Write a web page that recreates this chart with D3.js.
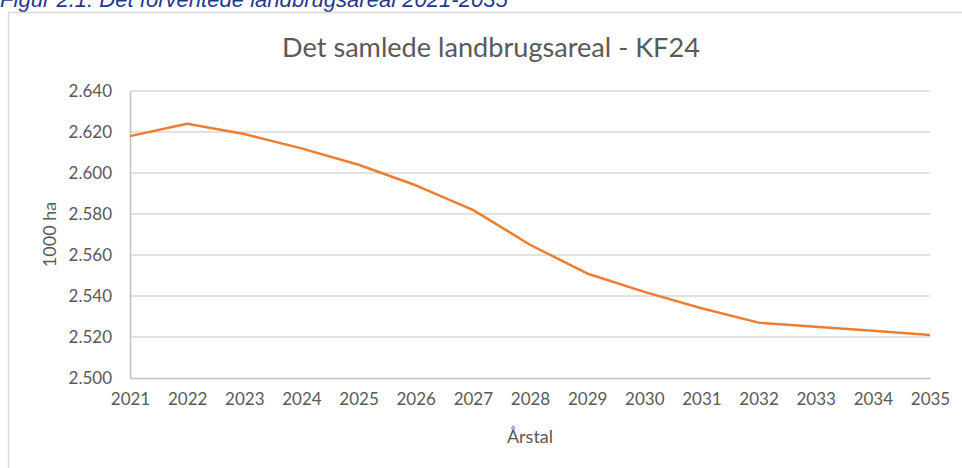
<!DOCTYPE html>
<html>
<head>
<meta charset="utf-8">
<script src="https://cdn.jsdelivr.net/npm/d3@7"></script>
<style>
  html, body { margin: 0; padding: 0; background: #fff; overflow: hidden; }
  svg { display: block; }
</style>
</head>
<body>
<div id="chart"></div>
<script>
// data (1000 ha)
const years = [2021, 2022, 2023, 2024, 2025, 2026, 2027, 2028, 2029, 2030, 2031, 2032, 2033, 2034, 2035];
const areal = [2.618, 2.624, 2.619, 2.612, 2.604, 2.594, 2.582, 2.565, 2.551, 2.542, 2.534, 2.527, 2.525, 2.523, 2.521];
const yTicks = [2.500, 2.520, 2.540, 2.560, 2.580, 2.600, 2.620, 2.640];

const caption = "Figur 2.1: Det forventede landbrugsareal 2021-2035";
const title = "Det samlede landbrugsareal - KF24";
const yTitle = "1000 ha";
const xTitle = "Årstal";

const width = 962, height = 468;
const margin = { top: 91, right: 32, bottom: 90, left: 130 };
const font = "Lato, 'Open Sans', sans-serif";

const svg = d3.select("#chart").append("svg")
    .attr("width", width)
    .attr("height", height)
    .attr("font-family", font);

// figure caption, clipped at the top edge like the source
const cap = svg.append("text")
    .attr("x", 0)
    .attr("y", 7)
    .attr("font-family", "'Liberation Sans', Arial, sans-serif")
    .attr("font-style", "italic")
    .attr("font-size", 20)
    .attr("fill", "#1f3a8f")
    .text(caption);
fitWidth(cap, 508);

// chart frame (runs off the right and bottom)
svg.append("rect")
    .attr("x", 8.5)
    .attr("y", 12.5)
    .attr("width", 1000)
    .attr("height", 600)
    .attr("fill", "#fff")
    .attr("stroke", "#d9d9d9")
    .attr("stroke-width", 1.5);

const x = d3.scaleLinear()
    .domain(d3.extent(years))
    .range([margin.left, width - margin.right]);

const y = d3.scaleLinear()
    .domain([d3.min(yTicks), d3.max(yTicks)])
    .range([height - margin.bottom, margin.top]);

const fmt = d3.format(".3f");

// gridlines
svg.append("g")
    .selectAll("line")
    .data(yTicks.slice(1))
    .join("line")
    .attr("x1", x.range()[0])
    .attr("x2", x.range()[1])
    .attr("y1", d => y(d))
    .attr("y2", d => y(d))
    .attr("stroke", "#d9d9d9")
    .attr("stroke-width", 1.5);

// y axis
const yAxis = svg.append("g")
    .attr("transform", `translate(${margin.left},0)`)
    .call(d3.axisLeft(y).tickValues(yTicks).tickFormat(fmt).tickSize(0).tickPadding(18));
yAxis.select(".domain").attr("stroke", "#bfbfbf").attr("stroke-width", 1.5);
yAxis.attr("font-family", font);
yAxis.selectAll("text")
    .attr("font-size", 17)
    .attr("fill", "#595959");

// x axis
const xAxis = svg.append("g")
    .attr("transform", `translate(0,${height - margin.bottom})`)
    .call(d3.axisBottom(x).tickValues(years).tickFormat(d3.format("d")).tickSize(0).tickPadding(15));
xAxis.select(".domain").attr("stroke", "#bfbfbf").attr("stroke-width", 1.5);
xAxis.attr("font-family", font);
xAxis.selectAll("text")
    .attr("font-size", 17)
    .attr("fill", "#595959");

// line
const line = d3.line()
    .x((d, i) => x(years[i]))
    .y(d => y(d));

svg.append("path")
    .datum(areal)
    .attr("d", line)
    .attr("fill", "none")
    .attr("stroke", "#ed7d31")
    .attr("stroke-width", 2.5)
    .attr("stroke-linejoin", "round");

// chart title
const t = svg.append("text")
    .attr("x", 491)
    .attr("y", 57)
    .attr("text-anchor", "middle")
    .attr("font-size", 23)
    .attr("fill", "#595959")
    .text(title);
fitWidth(t, 418);

// axis titles
svg.append("text")
    .attr("transform", `translate(56,${(y.range()[0] + y.range()[1]) / 2}) rotate(-90)`)
    .attr("text-anchor", "middle")
    .attr("font-size", 18)
    .attr("fill", "#595959")
    .text(yTitle);

svg.append("text")
    .attr("x", (x.range()[0] + x.range()[1]) / 2)
    .attr("y", 443)
    .attr("text-anchor", "middle")
    .attr("font-size", 18)
    .attr("fill", "#595959")
    .text(xTitle);

function fitWidth(sel, target) {
    const w = sel.node().getComputedTextLength();
    if (w > 0) {
        const fs = parseFloat(sel.attr("font-size"));
        sel.attr("font-size", (fs * target / w).toFixed(2));
    }
}
</script>
</body>
</html>
